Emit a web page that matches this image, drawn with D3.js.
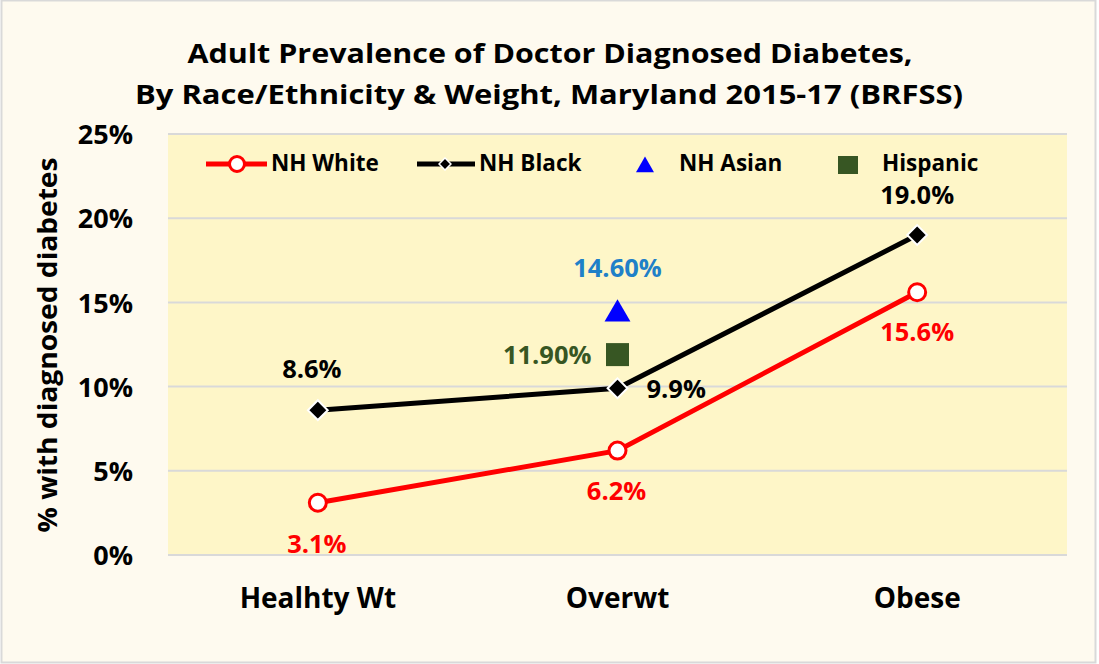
<!DOCTYPE html>
<html>
<head>
<meta charset="utf-8">
<script src="https://cdn.jsdelivr.net/npm/d3@7"></script>
<style>
  body { margin: 0; background: #fff; }
  svg text { font-family: "Open Sans", "Noto Sans", sans-serif; font-weight: bold; }
</style>
</head>
<body>
<svg width="1099" height="664"></svg>
<script>
var categories = ["Healhty Wt", "Overwt", "Obese"];
var whiteVals = [3.1, 6.2, 15.6];
var blackVals = [8.6, 9.9, 19.0];
var asianVals = [null, 14.6, null];
var hispanicVals = [null, 11.9, null];
var yTicks = [0, 5, 10, 15, 20, 25];

var svg = d3.select("svg");
var margin = {left: 168, right: 32, top: 134, bottom: 109};
var W = 1099, H = 664;

// outer frame
svg.append("rect").attr("x", 1.5).attr("y", 0.5).attr("width", 1094).attr("height", 662)
   .attr("fill", "#FEFAEF").attr("stroke", "#D9D9D9").attr("stroke-width", 2);

var x = d3.scaleBand().domain(categories).range([margin.left, W - margin.right]);
var y = d3.scaleLinear().domain([0, 25]).range([H - margin.bottom, margin.top]);

svg.append("rect").attr("x", margin.left).attr("y", margin.top)
   .attr("width", W - margin.right - margin.left).attr("height", H - margin.bottom - margin.top)
   .attr("fill", "#FEF6C8");

// gridlines
svg.append("g").selectAll("line").data(yTicks).enter().append("line")
   .attr("x1", margin.left).attr("x2", W - margin.right)
   .attr("y1", function(d) { return y(d); }).attr("y2", function(d) { return y(d); })
   .attr("stroke", "#D9D9D9").attr("stroke-width", 2);

// y axis
var yAxis = svg.append("g").attr("transform", "translate(" + (margin.left - 32) + ",0)")
   .call(d3.axisLeft(y).tickValues(yTicks).tickSize(0).tickFormat(function(d) { return d + "%"; }));
yAxis.select(".domain").remove();
yAxis.selectAll("text").attr("font-size", 27).attr("fill", "#000").attr("dy", "0.36em");

// x axis
var xAxis = svg.append("g").attr("transform", "translate(0," + (H - margin.bottom) + ")")
   .call(d3.axisBottom(x).tickSize(0));
xAxis.select(".domain").remove();
xAxis.selectAll("text").attr("font-size", 28).attr("fill", "#000").attr("dy", null).attr("y", 53);

// title
svg.append("text").attr("x", 550).attr("y", 63).attr("text-anchor", "middle")
   .attr("font-size", 27).text("Adult  Prevalence of Doctor Diagnosed Diabetes,")
   .attr("textLength", 725).attr("lengthAdjust", "spacingAndGlyphs");
svg.append("text").attr("x", 549).attr("y", 104).attr("text-anchor", "middle")
   .attr("font-size", 27).text("By Race/Ethnicity & Weight, Maryland 2015-17 (BRFSS)")
   .attr("textLength", 828).attr("lengthAdjust", "spacingAndGlyphs");

// y label
svg.append("text").attr("transform", "translate(57,345) rotate(-90)").attr("text-anchor", "middle")
   .attr("font-size", 27).text("% with diagnosed diabetes")
   .attr("textLength", 375).attr("lengthAdjust", "spacingAndGlyphs");

function cx(i) { return x(categories[i]) + x.bandwidth() / 2; }

var line = d3.line().x(function(d, i) { return cx(i); }).y(function(d) { return y(d); });

svg.append("path").datum(whiteVals).attr("d", line).attr("fill", "none")
   .attr("stroke", "#FF0000").attr("stroke-width", 5);
svg.append("path").datum(blackVals).attr("d", line).attr("fill", "none")
   .attr("stroke", "#000").attr("stroke-width", 5);

svg.append("g").selectAll("circle").data(whiteVals).enter().append("circle")
   .attr("cx", function(d, i) { return cx(i); }).attr("cy", function(d) { return y(d); })
   .attr("r", 8.5).attr("fill", "#fff").attr("stroke", "#FF0000").attr("stroke-width", 3);

var diamond = d3.symbol().type(d3.symbolDiamond2).size(250);
svg.append("g").selectAll("path").data(blackVals).enter().append("path")
   .attr("d", diamond)
   .attr("transform", function(d, i) { return "translate(" + cx(i) + "," + y(d) + ")"; })
   .attr("fill", "#000").attr("stroke", "#fff").attr("stroke-width", 2);

// Asian triangle and Hispanic square
var tri = d3.symbol().type(d3.symbolTriangle).size(290);
svg.append("g").selectAll("path").data(asianVals).enter().filter(function(d) { return d != null; })
   .append("path").attr("d", tri)
   .attr("transform", function(d) { return "translate(" + cx(1) + "," + (y(d) + 5) + ")"; })
   .attr("fill", "#0000FF");
svg.append("g").selectAll("rect").data(hispanicVals).enter().filter(function(d) { return d != null; })
   .append("rect").attr("x", cx(1) - 11.5).attr("y", function(d) { return y(d) - 11.5; })
   .attr("width", 23).attr("height", 23).attr("fill", "#375623");

// data labels
function lbl(text, px, py, color, anchor) {
  svg.append("text").attr("x", px).attr("y", py).attr("fill", color)
     .attr("font-size", 25.5).attr("text-anchor", anchor || "middle").text(text);
}
lbl(whiteVals[0].toFixed(1) + "%", cx(0) - 1, y(whiteVals[0]) + 50, "#FF0000");
lbl(whiteVals[1].toFixed(1) + "%", cx(1) - 1, y(whiteVals[1]) + 49, "#FF0000");
lbl(whiteVals[2].toFixed(1) + "%", cx(2), y(whiteVals[2]) + 49, "#FF0000");
lbl(blackVals[0].toFixed(1) + "%", cx(0) - 6, y(blackVals[0]) - 32, "#000");
lbl(blackVals[1].toFixed(1) + "%", cx(1) + 29, y(blackVals[1]) + 10, "#000", "start");
lbl(blackVals[2].toFixed(1) + "%", cx(2), y(blackVals[2]) - 31, "#000");
lbl(asianVals[1].toFixed(2) + "%", cx(1), y(asianVals[1]) - 32, "#1F80C8");
lbl(hispanicVals[1].toFixed(2) + "%", cx(1) - 26, y(hispanicVals[1]) + 9, "#375623", "end");

// legend
var lg = svg.append("g").attr("font-size", 22.5);
lg.append("line").attr("x1", 206).attr("x2", 267).attr("y1", 164).attr("y2", 164).attr("stroke", "#FF0000").attr("stroke-width", 5);
lg.append("circle").attr("cx", 237).attr("cy", 164).attr("r", 7.5).attr("fill", "#fff").attr("stroke", "#FF0000").attr("stroke-width", 3);
lg.append("text").attr("x", 271).attr("y", 171).text("NH White");
lg.append("line").attr("x1", 417).attr("x2", 475).attr("y1", 164).attr("y2", 164).attr("stroke", "#000").attr("stroke-width", 5);
lg.append("path").attr("d", d3.symbol().type(d3.symbolDiamond2).size(90)).attr("transform", "translate(445,164)")
  .attr("fill", "#000").attr("stroke", "#fff").attr("stroke-width", 1.5);
lg.append("text").attr("x", 479).attr("y", 171).text("NH Black");
lg.append("path").attr("d", d3.symbol().type(d3.symbolTriangle).size(140)).attr("transform", "translate(645,167)").attr("fill", "#0000FF");
lg.append("text").attr("x", 679).attr("y", 171).text("NH Asian");
lg.append("rect").attr("x", 838).attr("y", 156).attr("width", 20).attr("height", 18).attr("fill", "#375623");
lg.append("text").attr("x", 882).attr("y", 171).text("Hispanic");
</script>
</body>
</html>
